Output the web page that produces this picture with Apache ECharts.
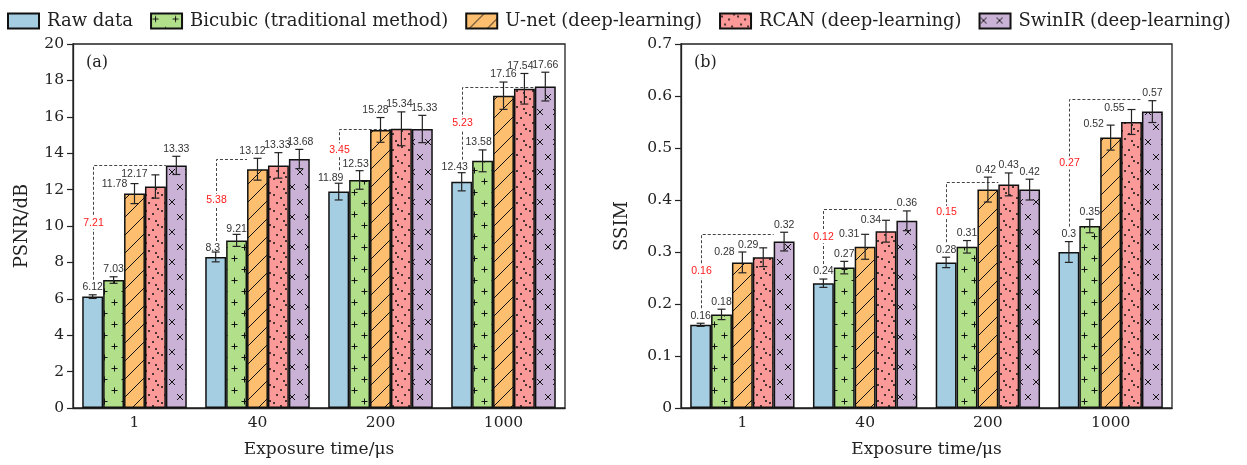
<!DOCTYPE html>
<html>
<head>
<meta charset="utf-8">
<script src="https://cdn.jsdelivr.net/npm/echarts@6/dist/echarts.min.js"></script>
<style>
  html, body { margin: 0; padding: 0; background: #fff; }
  #chart { width: 1247px; height: 465px; }
</style>
</head>
<body>
<div id="chart"></div>
<script>
// exposure times on the x axis
var exposures = ['1', '40', '200', '1000'];
var methods = ['Raw data', 'Bicubic (traditional method)', 'U-net (deep-learning)', 'RCAN (deep-learning)', 'SwinIR (deep-learning)'];

// (a) PSNR / dB
var psnrRaw = [6.12, 8.3, 11.89, 12.43];
var psnrBicubic = [7.03, 9.21, 12.53, 13.58];
var psnrUnet = [11.78, 13.12, 15.28, 17.16];
var psnrRcan = [12.17, 13.33, 15.34, 17.54];
var psnrSwin = [13.33, 13.68, 15.33, 17.66];
var psnrRawErr = [0.1, 0.27, 0.46, 0.5];
var psnrBicubicErr = [0.18, 0.33, 0.51, 0.6];
var psnrUnetErr = [0.55, 0.6, 0.68, 0.75];
var psnrRcanErr = [0.64, 0.7, 0.93, 0.84];
var psnrSwinErr = [0.5, 0.53, 0.75, 0.79];
var psnrBracketLevel = [13.33, 13.68, 15.34, 17.66];
var psnrBracketEnd = [4, 2, 3, 4];

// (b) SSIM
var ssimRaw = [0.16, 0.24, 0.28, 0.3];
var ssimBicubic = [0.18, 0.27, 0.31, 0.35];
var ssimUnet = [0.28, 0.31, 0.42, 0.52];
var ssimRcan = [0.29, 0.34, 0.43, 0.55];
var ssimSwin = [0.32, 0.36, 0.42, 0.57];
var ssimRawErr = [0.003, 0.008, 0.01, 0.02];
var ssimBicubicErr = [0.01, 0.012, 0.012, 0.013];
var ssimUnetErr = [0.02, 0.024, 0.024, 0.024];
var ssimRcanErr = [0.018, 0.021, 0.022, 0.024];
var ssimSwinErr = [0.018, 0.019, 0.02, 0.021];
var ssimBracketLevel = [0.334, 0.382, 0.435, 0.594];
var ssimBracketEnd = [4, 4, 3, 4];

// label nudges [dx, dy] per group / per method, so they don't sit on each other
var psnrLabelShift = [
  [[0, 0], [0, 0], [-20, 8], [-21, 7], [0, 0]],
  [[-3, 4], [0, 2], [-5, 0], [-1, 0], [1, 0]],
  [[-8, 2], [-4, 1], [-5, 0], [-2, 0], [2, 0]],
  [[-7, 2], [-4, 0], [0, 0], [-4, 0], [0, 0]]
];
var ssimLabelShift = [
  [[0, 0], [0, 0], [-18, 8], [-15, 5], [0, 0]],
  [[0, 0], [0, 0], [-16, 7], [-15, 7], [0, 0]],
  [[0, 0], [0, 0], [-2, 0], [0, 0], [0, 0]],
  [[0, 0], [0, 0], [-17, 6], [-17, 6], [0, 0]]
];

var serifFont = 'DejaVu Serif';
var sansFont = 'Liberation Sans';

// hatch tiles
function tile (bg, w, h, draw) {
  var c = document.createElement('canvas')
  c.width = w
  c.height = h
  var g = c.getContext('2d')
  g.fillStyle = bg
  g.fillRect(0, 0, w, h)
  g.strokeStyle = '#111'
  g.fillStyle = '#111'
  g.lineWidth = 1
  draw(g)
  return { image: c, repeat: 'repeat' }
}
function plus (g, x, y, r) {
  g.beginPath()
  g.moveTo(x - r, y); g.lineTo(x + r, y)
  g.moveTo(x, y - r); g.lineTo(x, y + r)
  g.stroke()
}
function cross (g, x, y, r) {
  g.beginPath()
  g.moveTo(x - r, y - r); g.lineTo(x + r, y + r)
  g.moveTo(x + r, y - r); g.lineTo(x - r, y + r)
  g.stroke()
}

var fills = [
  '#a6cee3',
  tile('#b2df8a', 20, 22, function (g) { plus(g, 4.5, 5.5, 3); plus(g, 14.5, 16.5, 3) }),
  tile('#fdbf6f', 18, 18, function (g) {
    g.beginPath()
    g.moveTo(-1, 19); g.lineTo(19, -1)
    g.stroke()
  }),
  tile('#fb9a99', 16, 16, function (g) {
    [[2, 3], [9, 6], [5, 11], [12, 13], [14, 1]].forEach(function (p) {
      g.beginPath(); g.arc(p[0], p[1], 1, 0, Math.PI * 2); g.fill()
    })
  }),
  tile('#cab2d6', 16, 30, function (g) { cross(g, 4, 7, 3); cross(g, 12, 22, 3) })
];

function pairs (vals, errs, s) {
  return vals.map(function (v, i) { return [i, v, errs[i], s] })
}

function errorSeries (xi, yi, data, shift) {
  return {
    type: 'custom',
    xAxisIndex: xi,
    yAxisIndex: yi,
    z: 5,
    silent: true,
    data: data,
    renderItem: function (params, api) {
      var g = api.value(0), v = api.value(1), e = api.value(2), s = api.value(3)
      var bw = api.size([1, 0])[0] * 0.85 / 5
      var cx = api.coord([g, v])[0] + (s - 2) * bw
      var yTop = api.coord([g, v + e])[1]
      var yBot = api.coord([g, v - e])[1]
      var d = shift[g][s]
      var ln = { stroke: '#222', lineWidth: 1.2 }
      return {
        type: 'group',
        children: [
          { type: 'line', shape: { x1: cx, y1: yTop, x2: cx, y2: yBot }, style: ln },
          { type: 'line', shape: { x1: cx - 4, y1: yTop, x2: cx + 4, y2: yTop }, style: ln },
          { type: 'line', shape: { x1: cx - 4, y1: yBot, x2: cx + 4, y2: yBot }, style: ln },
          {
            type: 'text',
            x: cx + d[0],
            y: yTop - 2 + d[1],
            style: { text: String(v), fill: '#333', font: '10.5px ' + sansFont, align: 'center', verticalAlign: 'bottom' }
          }
        ]
      }
    }
  }
}

function bracketSeries (xi, yi, raw, rawErr, all, level, endIdx, shift) {
  var data = raw.map(function (v, i) {
    var best = Math.max.apply(null, all.map(function (a) { return a[i] }))
    return [i, level[i], endIdx[i], v + rawErr[i], (best - v).toFixed(2)]
  })
  return {
    type: 'custom',
    xAxisIndex: xi,
    yAxisIndex: yi,
    z: 1,
    silent: true,
    data: data,
    renderItem: function (params, api) {
      var g = api.value(0)
      var bw = api.size([1, 0])[0] * 0.85 / 5
      var c0 = api.coord([g, api.value(1)])
      var x0 = Math.round(c0[0] - 2 * bw) + 0.5
      var yL = Math.round(c0[1]) + 0.5
      var xEnd = c0[0] + (api.value(2) - 2) * bw - bw / 2
      var capY = api.coord([g, api.value(3)])[1]
      var yB = capY - 2 + shift[g][0][1] - 13
      var dash = { stroke: '#444', fill: null, lineWidth: 1, lineDash: [3, 2] }
      return {
        type: 'group',
        children: [
          { type: 'polyline', shape: { points: [[x0, yB], [x0, yL], [xEnd, yL]] }, style: dash },
          {
            type: 'text',
            x: x0,
            y: (yL + yB) / 2,
            style: {
              text: api.value(4), fill: '#ff1a1a', font: '10.5px ' + sansFont,
              align: 'center', verticalAlign: 'middle', backgroundColor: '#fff', padding: [1, 0]
            }
          }
        ]
      }
    }
  }
}

var psnrAll = [psnrRaw, psnrBicubic, psnrUnet, psnrRcan, psnrSwin];
var psnrErrAll = [psnrRawErr, psnrBicubicErr, psnrUnetErr, psnrRcanErr, psnrSwinErr];
var ssimAll = [ssimRaw, ssimBicubic, ssimUnet, ssimRcan, ssimSwin];
var ssimErrAll = [ssimRawErr, ssimBicubicErr, ssimUnetErr, ssimRcanErr, ssimSwinErr];

var series = [];
[0, 1].forEach(function (p) {
  var vals = p === 0 ? psnrAll : ssimAll
  vals.forEach(function (arr, s) {
    series.push({
      name: methods[s],
      type: 'bar',
      xAxisIndex: p,
      yAxisIndex: p,
      z: 2,
      barGap: '0%',
      barCategoryGap: '15%',
      itemStyle: { color: fills[s], borderColor: '#111', borderWidth: 1.5 },
      data: arr
    })
  })
})

var psnrErrData = [], ssimErrData = [];
for (var s = 0; s < 5; s++) {
  psnrErrData = psnrErrData.concat(pairs(psnrAll[s], psnrErrAll[s], s))
  ssimErrData = ssimErrData.concat(pairs(ssimAll[s], ssimErrAll[s], s))
}
series.push(errorSeries(0, 0, psnrErrData, psnrLabelShift))
series.push(errorSeries(1, 1, ssimErrData, ssimLabelShift))
series.push(bracketSeries(0, 0, psnrRaw, psnrRawErr, psnrAll, psnrBracketLevel, psnrBracketEnd, psnrLabelShift))
series.push(bracketSeries(1, 1, ssimRaw, ssimRawErr, ssimAll, ssimBracketLevel, ssimBracketEnd, ssimLabelShift))

function xAxis (gi) {
  return {
    type: 'category',
    gridIndex: gi,
    data: exposures,
    name: 'Exposure time/\u03bcs',
    nameLocation: 'middle',
    nameGap: 33,
    nameTextStyle: { fontFamily: serifFont, fontSize: 17, color: '#222' },
    axisLine: { lineStyle: { color: '#222', width: 1.3 } },
    axisTick: { show: false },
    axisLabel: { fontFamily: serifFont, fontSize: 15.5, color: '#222', margin: 7 }
  }
}
function yAxis (gi, name, max, interval, gap) {
  return {
    type: 'value',
    gridIndex: gi,
    min: 0,
    max: max,
    interval: interval,
    name: name,
    nameLocation: 'middle',
    nameGap: gap,
    nameTextStyle: { fontFamily: serifFont, fontSize: 18, color: '#222' },
    axisLine: { show: true, lineStyle: { color: '#222', width: 1.3 } },
    axisTick: { show: true, length: 6, lineStyle: { color: '#222', width: 1.2 } },
    splitLine: { show: false },
    axisLabel: { fontFamily: serifFont, fontSize: 15.5, color: '#222', margin: 9 }
  }
}

var chart = echarts.init(document.getElementById('chart'), null, { renderer: 'canvas' })
chart.setOption({
  backgroundColor: '#fff',
  animation: false,
  title: [
    { text: '(a)', left: 81, top: 50, textStyle: { fontFamily: serifFont, fontSize: 16, fontWeight: 'normal', color: '#222' } },
    { text: '(b)', left: 689, top: 50, textStyle: { fontFamily: serifFont, fontSize: 16, fontWeight: 'normal', color: '#222' } }
  ],
  legend: {
    data: methods,
    icon: 'rect',
    left: 7,
    top: 12,
    padding: 0,
    width: 1240,
    itemWidth: 31,
    itemHeight: 15,
    itemGap: 17,
    textStyle: { fontFamily: serifFont, fontSize: 18, color: '#222', padding: [0, 0, 0, 3] }
  },
  grid: [
    { left: 73, right: 682, top: 44, bottom: 57, show: true, borderColor: '#222', borderWidth: 1.3 },
    { left: 681, right: 75, top: 44, bottom: 57, show: true, borderColor: '#222', borderWidth: 1.3 }
  ],
  xAxis: [xAxis(0), xAxis(1)],
  yAxis: [yAxis(0, 'PSNR/dB', 20, 2, 42), yAxis(1, 'SSIM', 0.7, 0.1, 50)],
  series: series
})
</script>
</body>
</html>
